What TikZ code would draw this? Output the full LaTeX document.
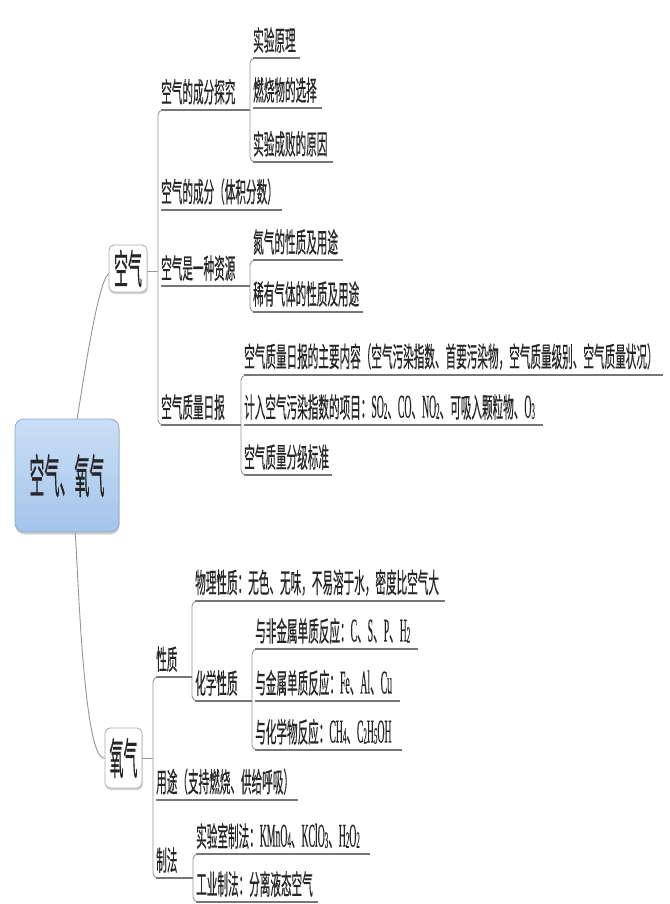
\documentclass[tikz,border=0pt]{standalone}
\usepackage{fontspec}
\setmainfont{Noto Sans CJK SC}[FakeBold=0.6]
\newfontfamily\latfont{Liberation Serif}[FakeBold=0.6]
\usepackage{graphicx}
\usetikzlibrary{shadows}
\definecolor{ulc}{HTML}{777777}
\definecolor{spc}{HTML}{959595}
\definecolor{txc}{HTML}{262626}
\definecolor{bluetop}{HTML}{CADFF6}
\definecolor{bluebot}{HTML}{A4C4EA}
\definecolor{blueborder}{HTML}{8EA8C6}
\newcommand\mmtext[1]{\noindent\hspace*{3pt}\scalebox{1}[2.6]{#1}}
\newcommand\la[1]{\scalebox{0.92}[1.2]{\latfont #1}}
\newcommand\lsub[1]{\raisebox{-0.4pt}{\fontsize{7.5}{8}\selectfont #1}}
\tikzset{
  lbl/.style={anchor=south west, inner xsep=0pt, inner ysep=5pt, align=left,
    font=\fontsize{10.6}{12}\selectfont, text=txc},
  uline/.style={draw=ulc, line width=1.6pt},
  conn/.style={draw=spc, line width=0.9pt},
  spine/.style={conn, rounded corners=5pt},
  topic/.style={draw=gray!65, fill=white, rounded corners=5pt, line width=0.8pt,
    drop shadow={shadow xshift=0.6pt, shadow yshift=-2pt, opacity=0.35},
    inner sep=0pt, text=txc, font=\fontsize{14}{16}\selectfont},
  central/.style={draw=blueborder, top color=bluetop, bottom color=bluebot,
    rounded corners=9pt, line width=0.8pt,
    drop shadow={shadow xshift=0.6pt, shadow yshift=-2.5pt, opacity=0.35},
    inner sep=0pt, text=txc, font=\fontsize{15}{17}\selectfont,
    minimum width=104pt, minimum height=113pt}
}
\begin{document}
\begin{tikzpicture}[x=1pt, y=-1pt]
\useasboundingbox[fill=white] (0,0) rectangle (669,904);

% central and main topics
\node[central] (C) at (67,475.5) {\scalebox{1}[3.1]{空气、氧气}};
\node[topic, minimum width=38pt, minimum height=47pt] (A) at (128,268.5) {\scalebox{1}[2.9]{空气}};
\node[topic, minimum width=37pt, minimum height=60pt] (O) at (123.5,758) {\scalebox{1}[3.1]{氧气}};

% 空气 branch
\node[lbl, text width=92pt]  (n1)  at (158,110) {\mmtext{空气的成分探究}};
\node[lbl, text width=50pt]  (n11) at (250,58)  {\mmtext{实验原理}};
\node[lbl, text width=72pt]  (n12) at (250,108) {\mmtext{燃烧物的选择}};
\node[lbl, text width=83pt]  (n13) at (250,162) {\mmtext{实验成败的原因}};
\node[lbl, text width=124pt] (n2)  at (158,210) {\mmtext{空气的成分（体积分数）}};
\node[lbl, text width=92pt]  (n3)  at (158,286) {\mmtext{空气是一种资源}};
\node[lbl, text width=93pt]  (n31) at (250,260) {\mmtext{氮气的性质及用途}};
\node[lbl, text width=113pt] (n32) at (250,312) {\mmtext{稀有气体的性质及用途}};
\node[lbl, text width=83pt]  (n4)  at (158,425) {\mmtext{空气质量日报}};
\node[lbl, text width=422pt] (n41) at (241,375) {\mmtext{空气质量日报的主要内容（空气污染指数、首要污染物，空气质量级别、空气质量状况）}};
\node[lbl, text width=302pt] (n42) at (241,425) {\mmtext{计入空气污染指数的项目：\la{SO\lsub{2}}、\la{CO}、\la{NO\lsub{2}}、可吸入颗粒物、\la{O\lsub{3}}}};
\node[lbl, text width=91pt]  (n43) at (241,475) {\mmtext{空气质量分级标准}};

% 氧气 branch
\node[lbl, text width=39pt]  (m1)   at (153,677) {\mmtext{性质}};
\node[lbl, text width=253pt] (m11)  at (192,601) {\mmtext{物理性质：无色、无味，不易溶于水，密度比空气大}};
\node[lbl, text width=60pt]  (m12)  at (192,701) {\mmtext{化学性质}};
\node[lbl, text width=166pt] (m121) at (252,649) {\mmtext{与非金属单质反应：\la{C}、\la{S}、\la{P}、\la{H\lsub{2}}}};
\node[lbl, text width=148pt] (m122) at (252,701) {\mmtext{与金属单质反应：\la{Fe}、\la{Al}、\la{Cu}}};
\node[lbl, text width=150pt] (m123) at (252,750) {\mmtext{与化学物反应：\la{CH\lsub{4}}、\la{C\lsub{2}H\lsub{5}OH}}};
\node[lbl, text width=145pt] (m2)   at (153,800) {\mmtext{用途（支持燃烧、供给呼吸）}};
\node[lbl, text width=40pt]  (m3)   at (153,878) {\mmtext{制法}};
\node[lbl, text width=177pt] (m31)  at (193,854) {\mmtext{实验室制法：\la{KMnO\lsub{4}}、\la{KClO\lsub{3}}、\la{H\lsub{2}O\lsub{2}}}};
\node[lbl, text width=125pt] (m32)  at (193,902) {\mmtext{工业制法：分离液态空气}};

% connectors from central topic
\draw[conn] (C.80) to[out=78, in=215, looseness=0.25] (A.195);
\draw[conn] (C.278) to[out=-83, in=190, looseness=0.25] (O.west);
\draw[conn] (A.350) -- (A.350 -| n1.south west);
\draw[conn] (O.east) -- (O.east -| m1.south west);

% spines
\draw[spine] ([xshift=6pt]n1.south west) -- (n1.south west) -- (n4.south west) -- ([xshift=6pt]n4.south west);
\draw[spine] ([xshift=6pt]n11.south west) -- (n11.south west) -- (n13.south west) -- ([xshift=6pt]n13.south west);
\draw[spine] ([xshift=6pt]n31.south west) -- (n31.south west) -- (n32.south west) -- ([xshift=6pt]n32.south west);
\draw[spine] ([xshift=6pt]n41.south west) -- (n41.south west) -- (n43.south west) -- ([xshift=6pt]n43.south west);
\draw[spine] ([xshift=6pt]m1.south west) -- (m1.south west) -- (m3.south west) -- ([xshift=6pt]m3.south west);
\draw[spine] ([xshift=6pt]m11.south west) -- (m11.south west) -- (m12.south west) -- ([xshift=6pt]m12.south west);
\draw[spine] ([xshift=6pt]m121.south west) -- (m121.south west) -- (m123.south west) -- ([xshift=6pt]m123.south west);
\draw[spine] ([xshift=6pt]m31.south west) -- (m31.south west) -- (m32.south west) -- ([xshift=6pt]m32.south west);

% underlines
\foreach \n in {n1,n11,n12,n13,n2,n3,n31,n32,n4,n41,n42,n43,m1,m11,m12,m121,m122,m123,m2,m3,m31,m32}
  \draw[uline] ([xshift=3pt]\n.south west) -- (\n.south east);
\end{tikzpicture}
\end{document}
